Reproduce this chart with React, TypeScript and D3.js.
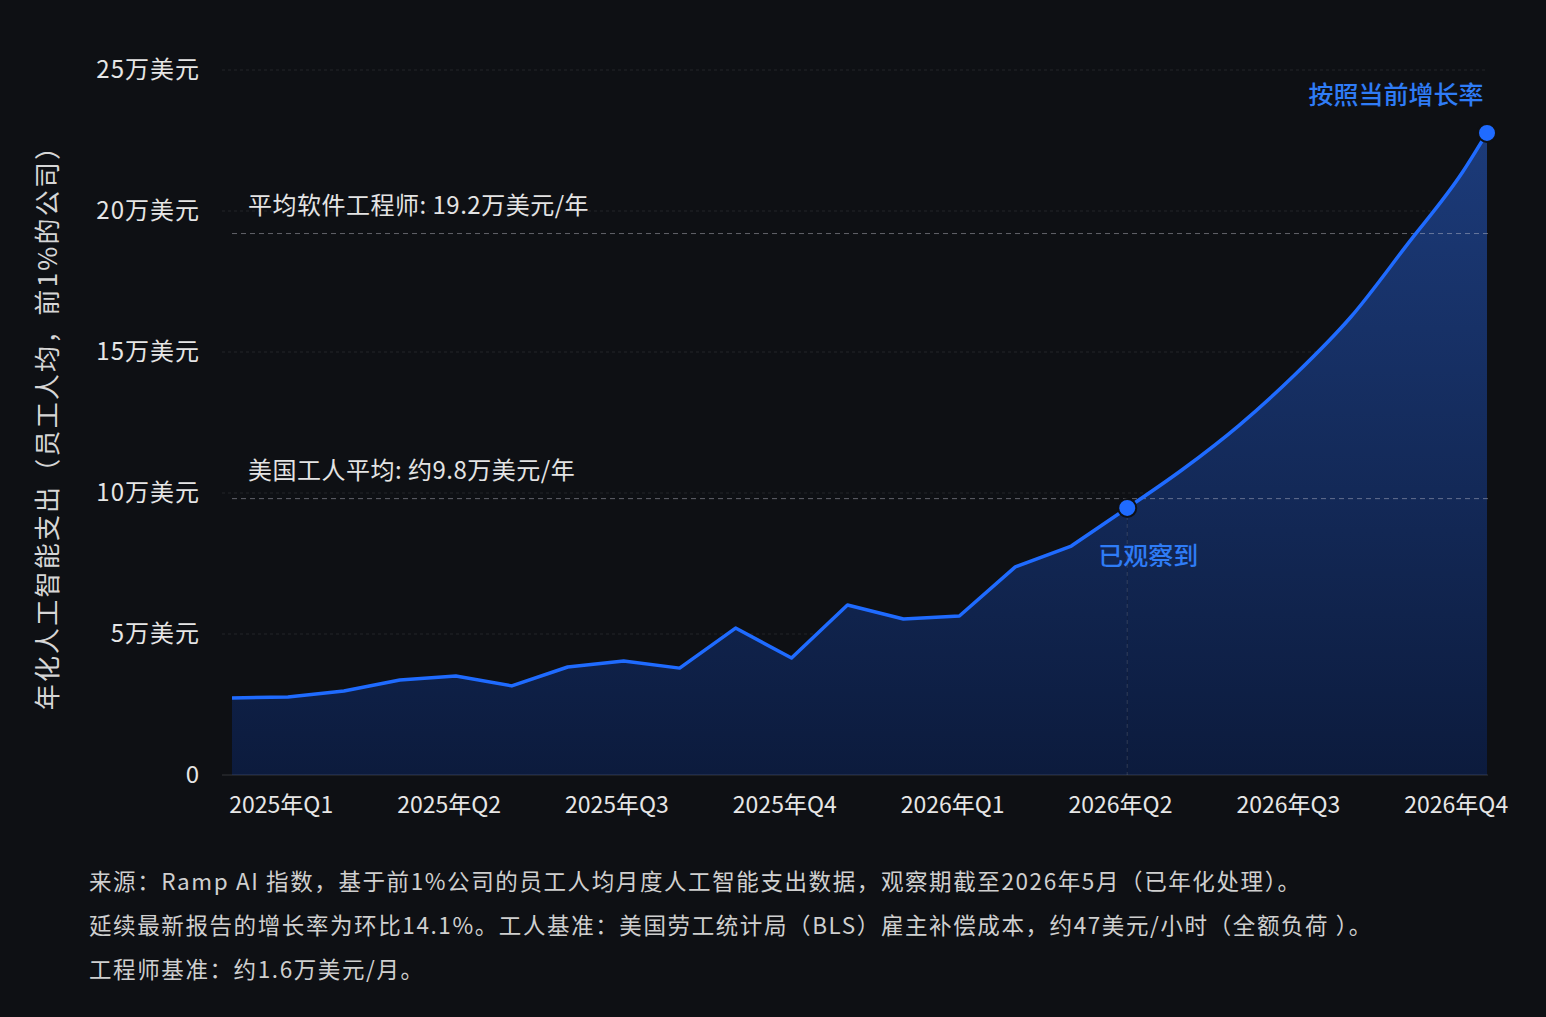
import * as d3 from 'd3'
import { useEffect, useRef } from 'react'

const W = 1546
const H = 1017
const margin = { top: 70, right: 58, bottom: 242, left: 232 }

// monthly observed values (Jan 2025 .. May 2026), USD per employee per year
const observedMonths = [
  '2025-01', '2025-02', '2025-03', '2025-04', '2025-05', '2025-06',
  '2025-07', '2025-08', '2025-09', '2025-10', '2025-11', '2025-12',
  '2026-01', '2026-02', '2026-03', '2026-04', '2026-05',
]
const observedValues = [
  27300, 27700, 29800, 33700, 35100, 31600, 38300, 40400, 37900,
  52100, 41500, 60300, 55300, 56400, 73800, 81200, 94700,
]
// projection (month index from Jan 2025)
const projectedIndex = [16, 17, 18, 19, 20, 21, 22, 22.43]
const projectedValues = [94700, 108500, 124000, 142000, 162500, 188000, 214000, 227700]

const yTicks = [0, 50000, 100000, 150000, 200000, 250000]
const yTickLabels = ['0', '5万美元', '10万美元', '15万美元', '20万美元', '25万美元']
const quarterLabels = [
  '2025年Q1', '2025年Q2', '2025年Q3', '2025年Q4',
  '2026年Q1', '2026年Q2', '2026年Q3', '2026年Q4',
]
const refValues = [192000, 98000]
const refLabels = ['平均软件工程师: 19.2万美元/年', '美国工人平均: 约9.8万美元/年']
const footnotes = [
  '来源：Ramp AI 指数，基于前1%公司的员工人均月度人工智能支出数据，观察期截至2026年5月（已年化处理）。',
  '延续最新报告的增长率为环比14.1%。工人基准：美国劳工统计局（BLS）雇主补偿成本，约47美元/小时（全额负荷 ）。',
  '工程师基准：约1.6万美元/月。',
]

const FONT = '"Noto Sans CJK SC", "Noto Sans", sans-serif'
const BLUE = '#1f6bff'
const LABEL_BLUE = '#2f7cf6'

export default function App() {
  const ref = useRef<SVGSVGElement>(null)

  useEffect(() => {
    const svg = d3.select(ref.current)
    svg.selectAll('*').remove()

    const x = d3
      .scaleLinear()
      .domain([0, 22.43])
      .range([margin.left, W - margin.right - 1])
    const y = d3
      .scaleLinear()
      .domain([0, 250000])
      .range([H - margin.bottom, margin.top])

    svg.append('rect').attr('width', W).attr('height', H).attr('fill', '#0e1014')

    const defs = svg.append('defs')
    const grad = defs
      .append('linearGradient')
      .attr('id', 'areaGrad')
      .attr('gradientUnits', 'userSpaceOnUse')
      .attr('x1', 0)
      .attr('y1', y(230000))
      .attr('x2', 0)
      .attr('y2', y(0))
    grad.append('stop').attr('offset', 0).attr('stop-color', '#1c3b7a')
    grad.append('stop').attr('offset', 1).attr('stop-color', '#0c1b3d')

    // grid
    const gridX0 = margin.left - 10
    svg
      .append('g')
      .selectAll('line')
      .data(yTicks.slice(1))
      .enter()
      .append('line')
      .attr('x1', gridX0)
      .attr('x2', W - margin.right)
      .attr('y1', (d) => y(d))
      .attr('y2', (d) => y(d))
      .attr('stroke', 'rgba(255,255,255,0.09)')
      .attr('stroke-dasharray', '3 3')

    const observed = observedValues.map((v, i) => ({ i, v }))
    const projected = projectedValues.map((v, k) => ({ i: projectedIndex[k], v }))

    const area = d3
      .area<{ i: number; v: number }>()
      .x((d) => x(d.i))
      .y0(y(0))
      .y1((d) => y(d.v))
    const line = d3
      .line<{ i: number; v: number }>()
      .x((d) => x(d.i))
      .y((d) => y(d.v))

    svg.append('path').datum(observed).attr('d', area).attr('fill', 'url(#areaGrad)')
    svg
      .append('path')
      .datum(projected)
      .attr('d', area.curve(d3.curveMonotoneX))
      .attr('fill', 'url(#areaGrad)')

    // baseline
    svg
      .append('line')
      .attr('x1', gridX0)
      .attr('x2', W - margin.right)
      .attr('y1', y(0))
      .attr('y2', y(0))
      .attr('stroke', 'rgba(255,255,255,0.16)')

    // reference lines
    const refs = svg.append('g')
    refValues.forEach((v, k) => {
      refs
        .append('line')
        .attr('x1', margin.left)
        .attr('x2', W - margin.right)
        .attr('y1', y(v))
        .attr('y2', y(v))
        .attr('stroke', 'rgba(200,200,210,0.45)')
        .attr('stroke-dasharray', '5 4')
      refs
        .append('text')
        .attr('x', margin.left + 16)
        .attr('y', y(v) - 20)
        .attr('fill', '#e4e4e4')
        .attr('font-size', 24)
        .attr('letter-spacing', 0.5)
        .text(refLabels[k])
    })

    // vertical marker at last observation
    const last = observed[observed.length - 1]
    svg
      .append('line')
      .attr('x1', x(last.i))
      .attr('x2', x(last.i))
      .attr('y1', y(last.v))
      .attr('y2', y(0))
      .attr('stroke', 'rgba(255,255,255,0.14)')
      .attr('stroke-dasharray', '4 4')

    svg
      .append('path')
      .datum(observed)
      .attr('d', line)
      .attr('fill', 'none')
      .attr('stroke', BLUE)
      .attr('stroke-width', 3.5)
      .attr('stroke-linejoin', 'round')
    svg
      .append('path')
      .datum(projected)
      .attr('d', line.curve(d3.curveMonotoneX))
      .attr('fill', 'none')
      .attr('stroke', BLUE)
      .attr('stroke-width', 3.5)

    const end = projected[projected.length - 1]
    ;[last, end].forEach((d) => {
      svg
        .append('circle')
        .attr('cx', x(d.i))
        .attr('cy', y(d.v))
        .attr('r', 9)
        .attr('fill', BLUE)
        .attr('stroke', '#0e1014')
        .attr('stroke-width', 2)
    })

    svg
      .append('text')
      .attr('x', x(last.i) + 21)
      .attr('y', y(last.v) + 48)
      .attr('dy', '0.35em')
      .attr('text-anchor', 'middle')
      .attr('fill', LABEL_BLUE)
      .attr('font-size', 25)
      .attr('font-weight', 500)
      .text('已观察到')
    svg
      .append('text')
      .attr('x', x(end.i) - 91)
      .attr('y', y(end.v) - 38)
      .attr('dy', '0.35em')
      .attr('text-anchor', 'middle')
      .attr('fill', LABEL_BLUE)
      .attr('font-size', 25)
      .attr('font-weight', 500)
      .text('按照当前增长率')

    // y axis labels
    svg
      .append('g')
      .selectAll('text')
      .data(yTicks)
      .enter()
      .append('text')
      .attr('x', 200)
      .attr('y', (d) => y(d))
      .attr('dy', '0.35em')
      .attr('text-anchor', 'end')
      .attr('fill', '#e6e6e6')
      .attr('font-size', 24)
      .attr('letter-spacing', 1)
      .text((d, i) => yTickLabels[i])

    // x axis quarter labels
    svg
      .append('g')
      .selectAll('text')
      .data(quarterLabels)
      .enter()
      .append('text')
      .attr('x', (d, i) => x(i * 3 + 0.88))
      .attr('y', y(0) + 30)
      .attr('dy', '0.35em')
      .attr('text-anchor', 'middle')
      .attr('fill', '#e6e6e6')
      .attr('font-size', 23)
      .text((d) => d)

    svg
      .append('text')
      .attr('transform', `translate(48, 421) rotate(-90)`)
      .attr('dy', '0.35em')
      .attr('text-anchor', 'middle')
      .attr('fill', '#d6d6d6')
      .attr('font-size', 26)
      .attr('letter-spacing', 2.2)
      .text('年化人工智能支出（员工人均，前1%的公司）')

    svg
      .append('g')
      .selectAll('text')
      .data(footnotes)
      .enter()
      .append('text')
      .attr('x', 89)
      .attr('y', (d, i) => 882 + i * 44)
      .attr('dy', '0.35em')
      .attr('fill', '#cfcfcf')
      .attr('font-size', 22.5)
      .attr('letter-spacing', 1.6)
      .style('white-space', 'pre')
      .text((d) => d)

    svg.selectAll('text').attr('font-family', FONT)
  }, [])

  return (
    <svg
      ref={ref}
      width={W}
      height={H}
      style={{ position: 'absolute', left: 0, top: 0, display: 'block' }}
    />
  )
}
